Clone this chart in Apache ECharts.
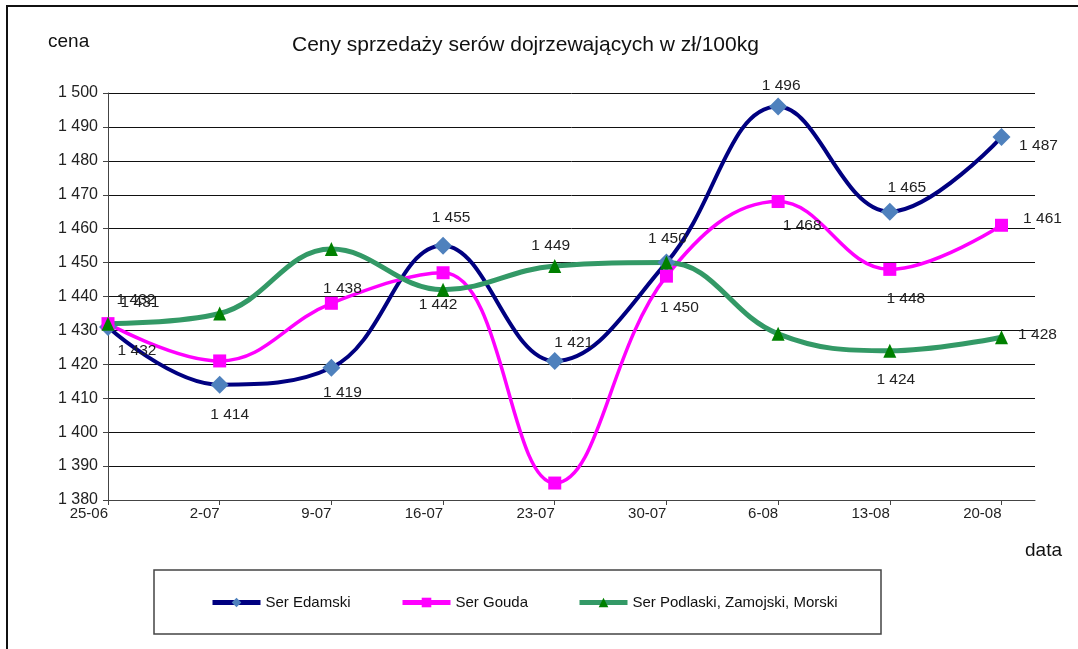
<!DOCTYPE html>
<html>
<head>
<meta charset="utf-8">
<title>Ceny sprzedaży serów dojrzewających</title>
<script src="https://cdn.jsdelivr.net/npm/echarts@6/dist/echarts.min.js"></script>
<style>
    html, body { margin: 0; padding: 0; background: #fff; }
    #main { width: 1078px; height: 649px; }
</style>
</head>
<body>
<div id="main"></div>
<script>
    // dane
    var categories = ['25-06', '2-07', '9-07', '16-07', '23-07', '30-07', '6-08', '13-08', '20-08'];
    var edamski = [1431, 1414, 1419, 1455, 1421, 1450, 1496, 1465, 1487];
    var gouda = [1432, 1421, 1438, 1447, 1385, 1446, 1468, 1448, 1461];
    var podlaski = [1432, 1435, 1454, 1442, 1449, 1450, 1429, 1424, 1428];
    var seriesNames = ['Ser Edamski', 'Ser Gouda', 'Ser Podlaski, Zamojski, Morski'];
    var priceMin = 1380, priceMax = 1500, priceStep = 10;

    var font = "'Liberation Sans', Arial, sans-serif";

    function fmt(v) {
        var s = String(Math.round(v));
        return s.length > 3 ? s.slice(0, s.length - 3) + ' ' + s.slice(-3) : s;
    }

    // przesunięcia etykiet (null = bez etykiety)
    var edamskiLabels = [[32, -24], [10, 30], [11, 25], [8, -28], [19, -18], [1, -24], [3, -21], [17, -24], [37, 9]];
    var goudaLabels = [[29, 27], null, [11, -15], null, null, null, [24, 24], [16, 29], [41, -7]];
    var podlaskiLabels = [[28, -24], null, null, [-5, 15], [-4, -20], [13, 45], null, [6, 29], [36, -2]];

    function points(values, offsets) {
        return values.map(function (v, i) {
            var o = offsets[i];
            return {
                value: [i, v],
                label: o ? {show: true, offset: o} : {show: false}
            };
        });
    }

    var labelStyle = {
        position: 'inside',
        color: '#222',
        fontSize: 15.5,
        fontFamily: font,
        formatter: function (p) { return fmt(p.value[1]); }
    };

    var ticks = categories.map(function (c, i) { return i; });

    var myChart = echarts.init(document.getElementById('main'));

    var option = {
        animation: false,
        backgroundColor: '#fff',
        title: {
            text: 'Ceny sprzedaży serów dojrzewających w zł/100kg',
            left: 292,
            top: 35,
            padding: 0,
            textStyle: {fontSize: 21, fontWeight: 'normal', color: '#111', fontFamily: font}
        },
        grid: {left: 108, right: 43, top: 93, bottom: 149},
        legend: [
            {data: [seriesNames[0]], left: 210, top: 595},
            {data: [seriesNames[1]], left: 400, top: 595},
            {data: [seriesNames[2]], left: 577, top: 595}
        ].map(function (l) {
            l.padding = 0;
            l.itemWidth = 48;
            l.itemHeight = 12;
            l.lineStyle = {width: 5};
            l.textStyle = {fontSize: 15, color: '#111', fontFamily: font};
            return l;
        }),
        xAxis: {
            type: 'value',
            min: 0,
            max: 8.3,
            interval: 1,
            axisLine: {show: true, lineStyle: {color: '#444', width: 1}},
            axisTick: {show: true, length: 5, customValues: ticks, lineStyle: {color: '#444'}},
            axisLabel: {
                customValues: ticks,
                formatter: function (v) { return categories[v]; },
                align: 'right',
                margin: 6,
                fontSize: 15,
                color: '#222',
                fontFamily: font
            },
            splitLine: {show: false}
        },
        yAxis: {
            type: 'value',
            min: priceMin,
            max: priceMax,
            interval: priceStep,
            axisLine: {show: true, lineStyle: {color: '#444', width: 1}},
            axisTick: {show: true, length: 5, lineStyle: {color: '#444'}},
            axisLabel: {formatter: fmt, margin: 10, fontSize: 16, color: '#222', fontFamily: font},
            splitLine: {show: true, lineStyle: {color: '#111', width: 1}}
        },
        series: [
            {
                name: seriesNames[0],
                type: 'line',
                smooth: 0.4,
                data: points(edamski, edamskiLabels),
                symbol: 'diamond',
                symbolSize: 18,
                lineStyle: {color: '#000080', width: 4},
                itemStyle: {color: '#4f81bd'},
                label: labelStyle
            },
            {
                name: seriesNames[1],
                type: 'line',
                smooth: 0.4,
                data: points(gouda, goudaLabels),
                symbol: 'rect',
                symbolSize: 13,
                lineStyle: {color: '#ff00ff', width: 3.5},
                itemStyle: {color: '#ff00ff'},
                label: labelStyle
            },
            {
                name: seriesNames[2],
                type: 'line',
                smooth: 0.4,
                data: points(podlaski, podlaskiLabels),
                symbol: 'triangle',
                symbolSize: [13, 14],
                lineStyle: {color: '#339966', width: 5},
                itemStyle: {color: '#008000'},
                label: labelStyle
            }
        ],
        graphic: [
            {
                type: 'rect',
                shape: {x: 7, y: 6, width: 1100, height: 700},
                style: {fill: null, stroke: '#111', lineWidth: 2},
                silent: true
            },
            {
                type: 'rect',
                shape: {x: 154, y: 570, width: 727, height: 64},
                style: {fill: null, stroke: '#444', lineWidth: 1.5},
                silent: true
            },
            {
                type: 'text',
                left: 48,
                top: 32,
                style: {text: 'cena', fontSize: 19, fill: '#111', fontFamily: font}
            },
            {
                type: 'text',
                left: 1025,
                top: 541,
                style: {text: 'data', fontSize: 19, fill: '#111', fontFamily: font}
            }
        ]
    };

    myChart.setOption(option);
</script>
</body>
</html>
